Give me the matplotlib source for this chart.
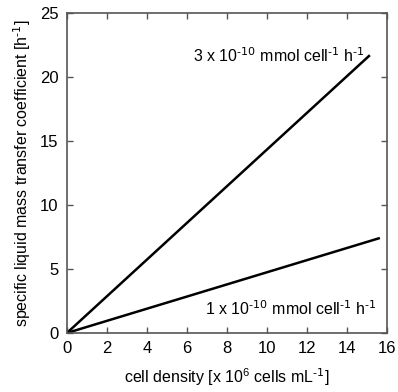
import numpy as np
import matplotlib
matplotlib.use("Agg")
import matplotlib.pyplot as plt

plt.rcParams['font.family'] = ['Liberation Sans', 'DejaVu Sans']
plt.rcParams['mathtext.default'] = 'regular'

# cell density end points [x 10^6 cells/mL] and resulting kLa [1/h]
density_high = [0.0, 15.15]
kla_high = [0.0, 21.7]
density_low = [0.0, 15.65]
kla_low = [0.0, 7.42]

x_ticks = [0, 2, 4, 6, 8, 10, 12, 14, 16]
y_ticks = [0, 5, 10, 15, 20, 25]

fig = plt.figure(figsize=(3.98, 3.92), dpi=100)
ax = fig.add_axes([0.168, 0.1505, 0.804, 0.8165])

ax.plot(density_high, kla_high, color='black', lw=1.8, solid_capstyle='butt')
ax.plot(density_low, kla_low, color='black', lw=1.8, solid_capstyle='butt')

ax.set_xlim(0, 16)
ax.set_ylim(0, 25)
ax.set_xticks(x_ticks)
ax.set_yticks(y_ticks)
ax.tick_params(direction='in', length=4, width=1, color='#555555',
               labelsize=12, top=True, right=True, pad=6)
for s in ax.spines.values():
    s.set_color('#555555')
    s.set_linewidth(1.2)

ax.set_xlabel(r'cell density [x 10$^{6}$ cells mL$^{\text{-1}}$]', fontsize=11.5, labelpad=7)
ax.set_ylabel(r'specific liquid mass transfer coefficient [h$^{\text{-1}}$]', fontsize=11.5, labelpad=5)

ax.text(14.9, 21.7, r'3 x 10$^{\text{-10}}$ mmol cell$^{\text{-1}}$ h$^{\text{-1}}$', ha='right', va='center', fontsize=11.5)
ax.text(15.5, 1.9, r'1 x 10$^{\text{-10}}$ mmol cell$^{\text{-1}}$ h$^{\text{-1}}$', ha='right', va='center', fontsize=11.5)

fig.savefig('out.png', dpi=100)
